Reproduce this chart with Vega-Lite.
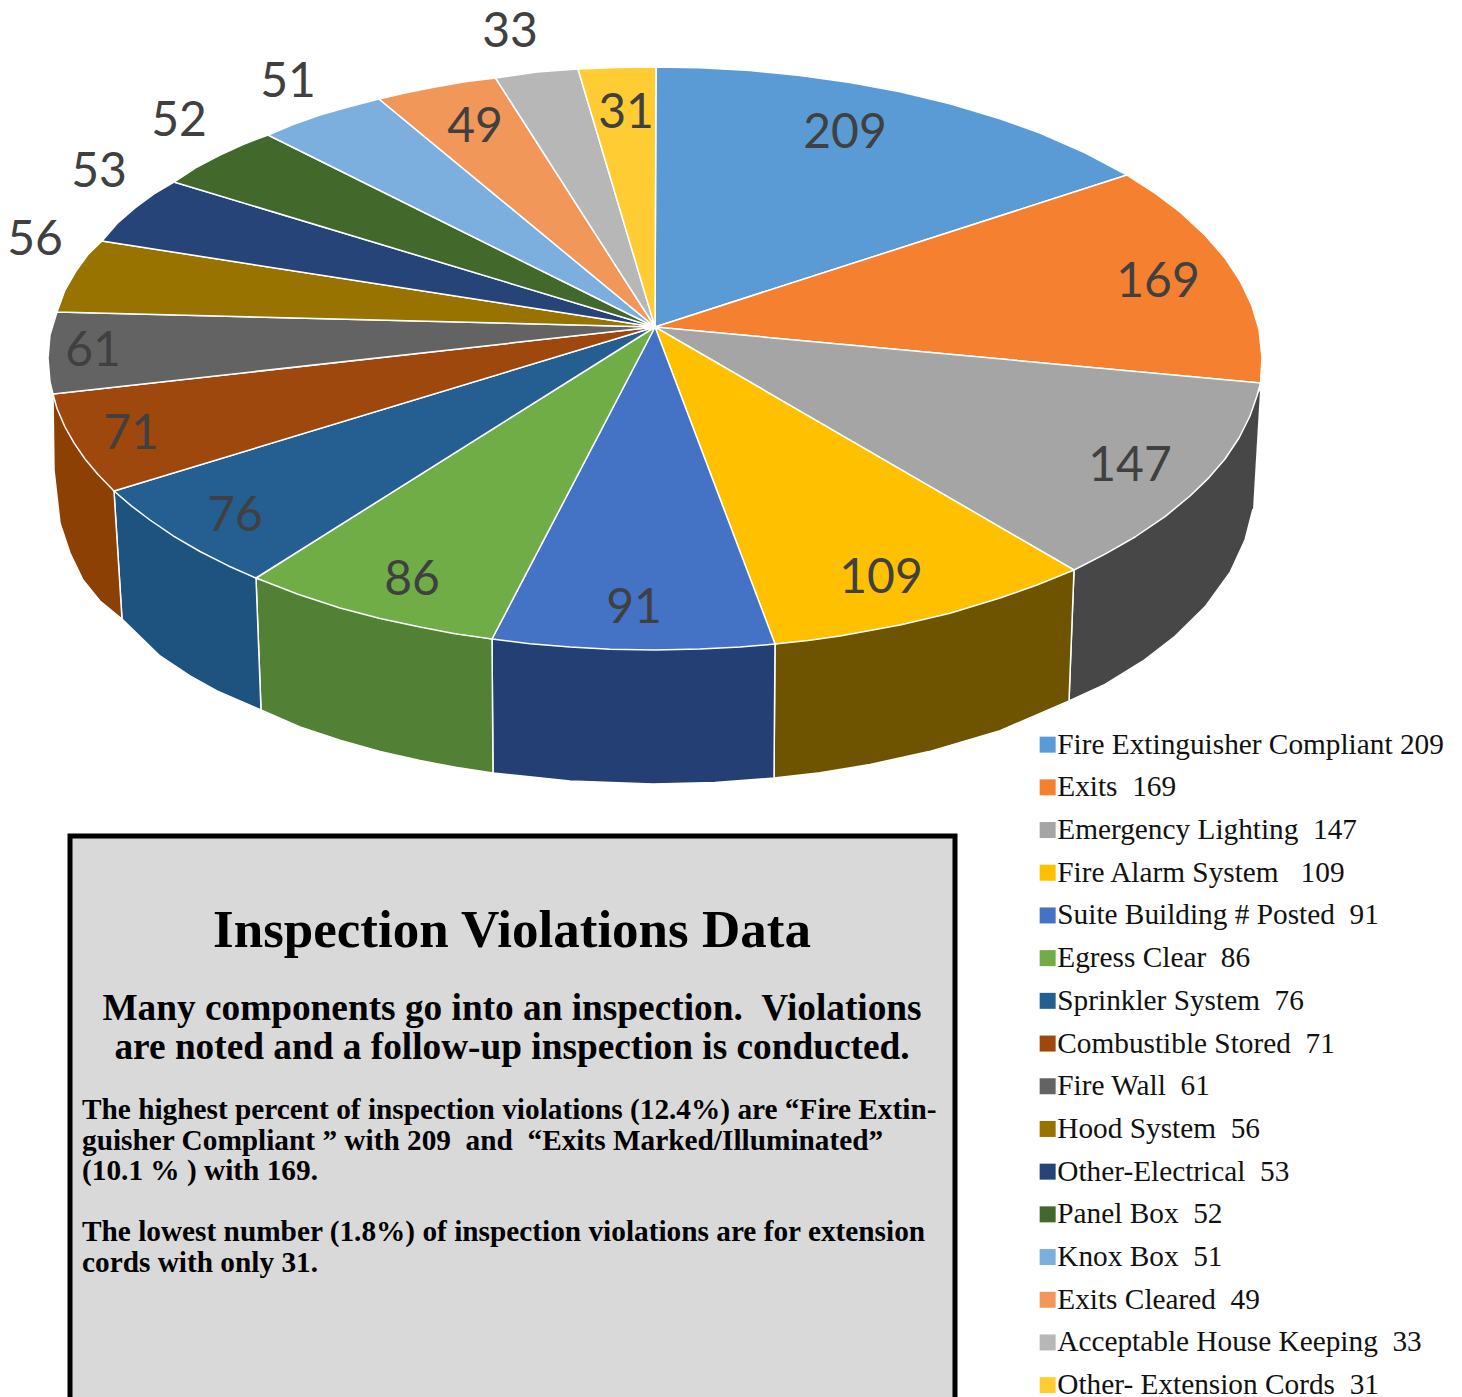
{"$schema":"https://vega.github.io/schema/vega-lite/v6.json","width":1462,"height":1397,"padding":0,"autosize":{"type":"none"},"background":"white","view":{"stroke":null},
"datasets":{
"violations":[
{"slice":1,"category":"Fire Extinguisher Compliant 209","value":209,"x":845,"y":134},
{"slice":2,"category":"Exits \u00a0169","value":169,"x":1158,"y":283},
{"slice":3,"category":"Emergency Lighting \u00a0147","value":147,"x":1130,"y":467},
{"slice":4,"category":"Fire Alarm System \u00a0\u00a0109","value":109,"x":881,"y":579},
{"slice":5,"category":"Suite Building # Posted \u00a091","value":91,"x":634,"y":609},
{"slice":6,"category":"Egress Clear \u00a086","value":86,"x":412,"y":581},
{"slice":7,"category":"Sprinkler System \u00a076","value":76,"x":235,"y":517},
{"slice":8,"category":"Combustible Stored \u00a071","value":71,"x":131,"y":435},
{"slice":9,"category":"Fire Wall \u00a061","value":61,"x":93,"y":352},
{"slice":10,"category":"Hood System \u00a056","value":56,"x":35,"y":241},
{"slice":11,"category":"Other-Electrical \u00a053","value":53,"x":99,"y":173},
{"slice":12,"category":"Panel Box \u00a052","value":52,"x":179,"y":122},
{"slice":13,"category":"Knox Box \u00a051","value":51,"x":288,"y":83},
{"slice":14,"category":"Exits Cleared \u00a049","value":49,"x":475,"y":128},
{"slice":15,"category":"Acceptable House Keeping \u00a033","value":33,"x":510,"y":33},
{"slice":16,"category":"Other- Extension Cords \u00a031","value":31,"x":626,"y":114}],
"top":[
{"slice":1,"i":0,"x":655,"y":327},{"slice":1,"i":1,"x":656,"y":67},{"slice":1,"i":2,"x":700,"y":67.8},{"slice":1,"i":3,"x":750,"y":70.6},{"slice":1,"i":4,"x":800,"y":75.4},{"slice":1,"i":5,"x":850,"y":82.5},{"slice":1,"i":6,"x":900,"y":91.8},{"slice":1,"i":7,"x":950,"y":103.7},{"slice":1,"i":8,"x":1000,"y":118.7},{"slice":1,"i":9,"x":1040,"y":133},{"slice":1,"i":10,"x":1085,"y":152.8},{"slice":1,"i":11,"x":1127,"y":175},{"slice":1,"i":12,"x":655,"y":327},
{"slice":2,"i":0,"x":655,"y":327},{"slice":2,"i":1,"x":1127,"y":175},{"slice":2,"i":2,"x":1155,"y":193.2},{"slice":2,"i":3,"x":1180,"y":212},{"slice":2,"i":4,"x":1204,"y":234.1},{"slice":2,"i":5,"x":1225,"y":258},{"slice":2,"i":6,"x":1240,"y":280.8},{"slice":2,"i":7,"x":1252,"y":306},{"slice":2,"i":8,"x":1259,"y":329.5},{"slice":2,"i":9,"x":1262,"y":358},{"slice":2,"i":10,"x":1260.5,"y":383},{"slice":2,"i":11,"x":655,"y":327},
{"slice":3,"i":0,"x":655,"y":327},{"slice":3,"i":1,"x":1260.5,"y":383},{"slice":3,"i":2,"x":1257,"y":395.8},{"slice":3,"i":3,"x":1250,"y":416},{"slice":3,"i":4,"x":1239,"y":438},{"slice":3,"i":5,"x":1225,"y":459},{"slice":3,"i":6,"x":1209,"y":477.6},{"slice":3,"i":7,"x":1190,"y":496},{"slice":3,"i":8,"x":1165,"y":516.6},{"slice":3,"i":9,"x":1135,"y":537},{"slice":3,"i":10,"x":1105,"y":554.1},{"slice":3,"i":11,"x":1074,"y":570},{"slice":3,"i":12,"x":655,"y":327},
{"slice":4,"i":0,"x":655,"y":327},{"slice":4,"i":1,"x":1074,"y":570},{"slice":4,"i":2,"x":1037,"y":585},{"slice":4,"i":3,"x":1000,"y":598},{"slice":4,"i":4,"x":950,"y":613.3},{"slice":4,"i":5,"x":900,"y":625},{"slice":4,"i":6,"x":840,"y":636},{"slice":4,"i":7,"x":808,"y":640.6},{"slice":4,"i":8,"x":775,"y":644},{"slice":4,"i":9,"x":655,"y":327},
{"slice":5,"i":0,"x":655,"y":327},{"slice":5,"i":1,"x":775,"y":644},{"slice":5,"i":2,"x":740,"y":647.1},{"slice":5,"i":3,"x":700,"y":649},{"slice":5,"i":4,"x":655,"y":650},{"slice":5,"i":5,"x":610,"y":649.2},{"slice":5,"i":6,"x":570,"y":647},{"slice":5,"i":7,"x":530,"y":643.8},{"slice":5,"i":8,"x":492,"y":639},{"slice":5,"i":9,"x":655,"y":327},
{"slice":6,"i":0,"x":655,"y":327},{"slice":6,"i":1,"x":492,"y":639},{"slice":6,"i":2,"x":455,"y":633.7},{"slice":6,"i":3,"x":420,"y":627},{"slice":6,"i":4,"x":380,"y":618.4},{"slice":6,"i":5,"x":340,"y":608},{"slice":6,"i":6,"x":298,"y":594.3},{"slice":6,"i":7,"x":256,"y":578},{"slice":6,"i":8,"x":655,"y":327},
{"slice":7,"i":0,"x":655,"y":327},{"slice":7,"i":1,"x":256,"y":578},{"slice":7,"i":2,"x":228,"y":565.7},{"slice":7,"i":3,"x":200,"y":551.5},{"slice":7,"i":4,"x":174,"y":536.3},{"slice":7,"i":5,"x":150,"y":520},{"slice":7,"i":6,"x":131,"y":505.6},{"slice":7,"i":7,"x":114,"y":491},{"slice":7,"i":8,"x":655,"y":327},
{"slice":8,"i":0,"x":655,"y":327},{"slice":8,"i":1,"x":114,"y":491},{"slice":8,"i":2,"x":98,"y":474.4},{"slice":8,"i":3,"x":85,"y":459},{"slice":8,"i":4,"x":74,"y":442.9},{"slice":8,"i":5,"x":65,"y":427},{"slice":8,"i":6,"x":57,"y":408.5},{"slice":8,"i":7,"x":53,"y":394},{"slice":8,"i":8,"x":655,"y":327},
{"slice":9,"i":0,"x":655,"y":327},{"slice":9,"i":1,"x":53,"y":394},{"slice":9,"i":2,"x":50,"y":382},{"slice":9,"i":3,"x":48,"y":358},{"slice":9,"i":4,"x":50,"y":335},{"slice":9,"i":5,"x":57,"y":312},{"slice":9,"i":6,"x":655,"y":327},
{"slice":10,"i":0,"x":655,"y":327},{"slice":10,"i":1,"x":57,"y":312},{"slice":10,"i":2,"x":65,"y":290},{"slice":10,"i":3,"x":76,"y":271},{"slice":10,"i":4,"x":88,"y":254.5},{"slice":10,"i":5,"x":102,"y":241},{"slice":10,"i":6,"x":655,"y":327},
{"slice":11,"i":0,"x":655,"y":327},{"slice":11,"i":1,"x":102,"y":241},{"slice":11,"i":2,"x":118,"y":222.6},{"slice":11,"i":3,"x":135,"y":208},{"slice":11,"i":4,"x":154,"y":193.9},{"slice":11,"i":5,"x":174,"y":182},{"slice":11,"i":6,"x":655,"y":327},
{"slice":12,"i":0,"x":655,"y":327},{"slice":12,"i":1,"x":174,"y":182},{"slice":12,"i":2,"x":196,"y":167.7},{"slice":12,"i":3,"x":220,"y":155},{"slice":12,"i":4,"x":243,"y":144.5},{"slice":12,"i":5,"x":268,"y":135},{"slice":12,"i":6,"x":655,"y":327},
{"slice":13,"i":0,"x":655,"y":327},{"slice":13,"i":1,"x":268,"y":135},{"slice":13,"i":2,"x":293,"y":124.5},{"slice":13,"i":3,"x":320,"y":115},{"slice":13,"i":4,"x":349,"y":106.7},{"slice":13,"i":5,"x":379,"y":99},{"slice":13,"i":6,"x":655,"y":327},
{"slice":14,"i":0,"x":655,"y":327},{"slice":14,"i":1,"x":379,"y":99},{"slice":14,"i":2,"x":406,"y":92.7},{"slice":14,"i":3,"x":435,"y":87},{"slice":14,"i":4,"x":465,"y":81.7},{"slice":14,"i":5,"x":495.5,"y":78},{"slice":14,"i":6,"x":655,"y":327},
{"slice":15,"i":0,"x":655,"y":327},{"slice":15,"i":1,"x":495.5,"y":78},{"slice":15,"i":2,"x":537,"y":72},{"slice":15,"i":3,"x":578,"y":69},{"slice":15,"i":4,"x":655,"y":327},
{"slice":16,"i":0,"x":655,"y":327},{"slice":16,"i":1,"x":578,"y":69},{"slice":16,"i":2,"x":617,"y":67.5},{"slice":16,"i":3,"x":656,"y":67},{"slice":16,"i":4,"x":655,"y":327}],
"side":[
{"slice":3,"i":0,"x":1260,"y":390},{"slice":3,"i":1,"x":1074,"y":570},{"slice":3,"i":2,"x":1069,"y":701},{"slice":3,"i":3,"x":1105,"y":684.5},{"slice":3,"i":4,"x":1143,"y":661},{"slice":3,"i":5,"x":1175,"y":636.4},{"slice":3,"i":6,"x":1205,"y":606.9},{"slice":3,"i":7,"x":1230,"y":572.5},{"slice":3,"i":8,"x":1245,"y":540},{"slice":3,"i":9,"x":1253,"y":509},
{"slice":4,"i":0,"x":1074,"y":570},{"slice":4,"i":1,"x":775,"y":644},{"slice":4,"i":2,"x":774,"y":778},{"slice":4,"i":3,"x":820,"y":772.7},{"slice":4,"i":4,"x":870,"y":764.5},{"slice":4,"i":5,"x":929,"y":751.6},{"slice":4,"i":6,"x":1000,"y":730.6},{"slice":4,"i":7,"x":1069,"y":701},{"slice":4,"i":8,"x":1074,"y":570},
{"slice":5,"i":0,"x":775,"y":644},{"slice":5,"i":1,"x":492,"y":639},{"slice":5,"i":2,"x":493,"y":773},{"slice":5,"i":3,"x":570,"y":781},{"slice":5,"i":4,"x":653,"y":784},{"slice":5,"i":5,"x":715,"y":782.5},{"slice":5,"i":6,"x":774,"y":778},{"slice":5,"i":7,"x":775,"y":644},
{"slice":6,"i":0,"x":492,"y":639},{"slice":6,"i":1,"x":256,"y":578},{"slice":6,"i":2,"x":261,"y":710},{"slice":6,"i":3,"x":300,"y":727},{"slice":6,"i":4,"x":340,"y":740.3},{"slice":6,"i":5,"x":380,"y":751.4},{"slice":6,"i":6,"x":420,"y":760.6},{"slice":6,"i":7,"x":457,"y":767.5},{"slice":6,"i":8,"x":493,"y":773},{"slice":6,"i":9,"x":492,"y":639},
{"slice":7,"i":0,"x":256,"y":578},{"slice":7,"i":1,"x":114,"y":491},{"slice":7,"i":2,"x":122,"y":619},{"slice":7,"i":3,"x":160,"y":656},{"slice":7,"i":4,"x":190,"y":675.8},{"slice":7,"i":5,"x":217,"y":691},{"slice":7,"i":6,"x":261,"y":710},{"slice":7,"i":7,"x":256,"y":578},
{"slice":8,"i":0,"x":114,"y":491},{"slice":8,"i":1,"x":53,"y":394},{"slice":8,"i":2,"x":54,"y":470},{"slice":8,"i":3,"x":60,"y":523},{"slice":8,"i":4,"x":70,"y":553},{"slice":8,"i":5,"x":83,"y":580},{"slice":8,"i":6,"x":100,"y":601},{"slice":8,"i":7,"x":122,"y":619},{"slice":8,"i":8,"x":114,"y":491}],
"panel":[{"x":70,"x2":955,"y":836,"y2":1410}],
"heading":[{"text":"Inspection Violations Data","x":512,"y":931}],
"subheading":[{"text":"Many components go into an inspection. \u00a0Violations","x":512,"y":1009},{"text":"are noted and a follow-up inspection is conducted.","x":512,"y":1048}],
"body":[{"text":"The highest percent of inspection violations (12.4%) are “Fire Extin-","x":82,"y":1110},{"text":"guisher Compliant ” with 209 \u00a0and \u00a0“Exits Marked/Illuminated”","x":82,"y":1141},{"text":"(10.1 % ) with 169.","x":82,"y":1171},{"text":"The lowest number (1.8%) of inspection violations are for extension","x":82,"y":1232},{"text":"cords with only 31.","x":82,"y":1263}]
},
"encoding":{
"x":{"field":"x","type":"quantitative","scale":{"domain":[0,1462],"range":[0,1462]},"axis":null},
"y":{"field":"y","type":"quantitative","scale":{"domain":[0,1397],"range":[0,1397]},"axis":null}
},
"layer":[
{"data":{"name":"side"},"transform":[{"lookup":"slice","from":{"data":{"name":"violations"},"key":"slice","fields":["category"]}}],
"mark":{"type":"line","filled":true,"stroke":"white","strokeWidth":1.5,"strokeJoin":"round"},
"encoding":{"order":{"field":"i","type":"quantitative"},
"color":{"field":"category","type":"nominal","legend":null,"scale":{"domain":["Emergency Lighting \u00a0147","Fire Alarm System \u00a0\u00a0109","Suite Building # Posted \u00a091","Egress Clear \u00a086","Sprinkler System \u00a076","Combustible Stored \u00a071"],"range":["#474747","#6E5300","#243F73","#528034","#1E5380","#8C4004"]}}}},
{"data":{"name":"top"},"transform":[{"lookup":"slice","from":{"data":{"name":"violations"},"key":"slice","fields":["category"]}}],
"mark":{"type":"line","filled":true,"stroke":"white","strokeWidth":1.5,"strokeJoin":"round"},
"encoding":{"order":{"field":"i","type":"quantitative"},
"color":{"field":"category","type":"nominal",
"scale":{"domain":["Fire Extinguisher Compliant 209","Exits \u00a0169","Emergency Lighting \u00a0147","Fire Alarm System \u00a0\u00a0109","Suite Building # Posted \u00a091","Egress Clear \u00a086","Sprinkler System \u00a076","Combustible Stored \u00a071","Fire Wall \u00a061","Hood System \u00a056","Other-Electrical \u00a053","Panel Box \u00a052","Knox Box \u00a051","Exits Cleared \u00a049","Acceptable House Keeping \u00a033","Other- Extension Cords \u00a031"],
"range":["#5B9BD5","#F48030","#A5A5A5","#FFC000","#4472C4","#70AD47","#255E91","#9E480E","#636363","#997300","#264478","#43682B","#7CAFDD","#F1975A","#B7B7B7","#FFCD33"]},
"legend":{"title":null,"orient":"none","legendX":1033,"legendY":730,"symbolType":"square","symbolSize":256,"symbolStrokeWidth":0,"labelFont":"Liberation Serif","labelFontSize":29.3,"labelColor":"#111111","labelLimit":500,"labelOffset":-5,"rowPadding":12.7,"padding":0}}}},
{"data":{"name":"violations"},"mark":{"type":"text","font":"Lato","fontSize":48,"color":"#404040","align":"center","baseline":"middle"},"encoding":{"text":{"field":"value","type":"nominal"}}},
{"data":{"name":"panel"},"mark":{"type":"rect","fill":"#D9D9D9","stroke":"black","strokeWidth":5},"encoding":{"x2":{"field":"x2"},"y2":{"field":"y2"}}},
{"data":{"name":"heading"},"mark":{"type":"text","font":"Liberation Serif","fontWeight":"bold","fontSize":53,"color":"black","align":"center","baseline":"middle"},"encoding":{"text":{"field":"text","type":"nominal"}}},
{"data":{"name":"subheading"},"mark":{"type":"text","font":"Liberation Serif","fontWeight":"bold","fontSize":37.3,"color":"black","align":"center","baseline":"middle"},"encoding":{"text":{"field":"text","type":"nominal"}}},
{"data":{"name":"body"},"mark":{"type":"text","font":"Liberation Serif","fontWeight":"bold","fontSize":29.3,"color":"black","align":"left","baseline":"middle"},"encoding":{"text":{"field":"text","type":"nominal"}}}
],
"resolve":{"scale":{"color":"independent"}}
}
